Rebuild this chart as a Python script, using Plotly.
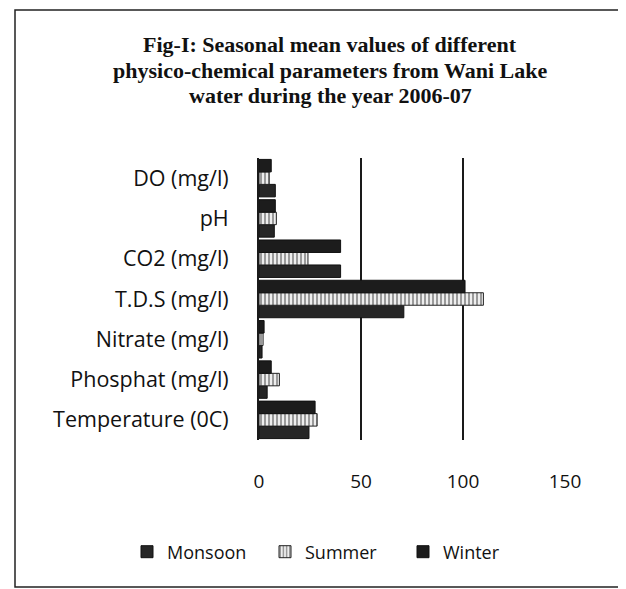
import plotly.graph_objects as go

categories = ["Temperature (0C)", "Phosphat (mg/l)", "Nitrate (mg/l)",
              "T.D.S (mg/l)", "CO2 (mg/l)", "pH", "DO (mg/l)"]
monsoon = [24.5, 4, 1.5, 71, 40, 7.5, 8]
summer = [28.5, 10, 2, 110, 24, 8.5, 5]
winter = [27.5, 6, 2.5, 101, 40, 8, 6]
x_ticks = [0, 50, 100, 150]
title_lines = ["Fig-I: Seasonal mean values of different",
               "physico-chemical parameters from Wani Lake",
               "water during the year 2006-07"]

fig = go.Figure()
fig.add_trace(go.Bar(y=categories, x=monsoon, name="Monsoon", orientation="h",
                     marker=dict(color="#262626", line=dict(color="#111", width=1))))
fig.add_trace(go.Bar(y=categories, x=summer, name="Summer", orientation="h",
                     marker=dict(color="#f2f2f2", line=dict(color="#222", width=1),
                                 pattern=dict(shape="|", fgcolor="#333", bgcolor="#eeeeee",
                                              size=4, solidity=0.45))))
fig.add_trace(go.Bar(y=categories, x=winter, name="Winter", orientation="h",
                     marker=dict(color="#1c1c1c", line=dict(color="#111", width=1))))

OFF = 8  # page body margin offset
W, H = 626 - OFF, 589 - OFF
L, R, T, B = 259 - OFF, 565 - OFF, 158 - OFF, 440 - OFF

def px(xp):
    return (xp - OFF - L) / (R - L)

def py(yp):
    return (B - (yp - OFF)) / (B - T)

annotations = []
for i, line in enumerate(title_lines):
    annotations.append(dict(text="<b>" + line + "</b>", xref="paper", yref="paper",
                            x=px(330), y=py(45 + 25 * i), xanchor="center", yanchor="middle",
                            showarrow=False,
                            font=dict(family="Liberation Serif, Times New Roman, serif",
                                      size=22, color="#111")))

fig.update_layout(
    width=W, height=H,
    margin=dict(l=L, r=W - R, t=T, b=H - B, autoexpand=False),
    paper_bgcolor="white", plot_bgcolor="white",
    barmode="group", bargap=0.07, bargroupgap=0.0,
    font=dict(family="Open Sans, sans-serif", color="#111"),
    showlegend=True,
    legend=dict(orientation="h", xref="paper", yref="paper",
                x=px(127), xanchor="left", y=py(552), yanchor="middle",
                font=dict(size=18, family="Open Sans, sans-serif", color="#111"),
                traceorder="normal", entrywidth=93, entrywidthmode="pixels",
                itemwidth=30),
    annotations=annotations,
    xaxis=dict(range=[0, 150], tickvals=x_ticks, showgrid=True, gridcolor="#1a1a1a",
               gridwidth=2, zeroline=False, showline=False, ticks="",
               tickfont=dict(size=19, color="#111"), ticklabelstandoff=28,
               automargin=False),
    yaxis=dict(categoryorder="array", categoryarray=categories, showgrid=False,
               showline=True, linecolor="#1a1a1a", linewidth=2, ticks="",
               tickfont=dict(size=21.5, color="#111"), ticklabelstandoff=24,
               automargin=False),
    shapes=[dict(type="rect", xref="paper", yref="paper",
                 x0=px(15), x1=px(622), y0=py(587), y1=py(10),
                 line=dict(color="#222", width=1.5), fillcolor="rgba(0,0,0,0)", layer="below")],
)

fig.write_html("out.html")
